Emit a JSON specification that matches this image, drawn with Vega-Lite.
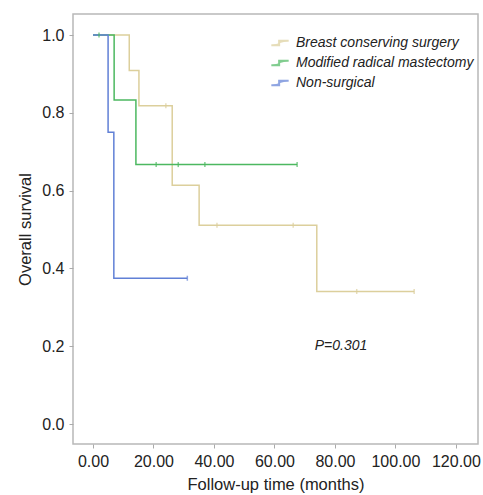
{
  "$schema": "https://vega.github.io/schema/vega-lite/v6.json",
  "autosize": {"type": "none"},
  "padding": {"left": 73, "top": 14, "right": 5, "bottom": 51},
  "width": 405,
  "height": 430,
  "background": "white",
  "config": {
    "font": "Liberation Sans",
    "view": {"stroke": "#b8b8b8", "strokeWidth": 1.5},
    "axis": {"grid": false, "domain": false, "tickColor": "#aaaaaa", "tickSize": 4, "labelColor": "#222222", "titleColor": "#222222", "labelFontSize": 16, "titleFontSize": 16.5, "titleFontWeight": "normal", "labelFont": "Liberation Sans", "titleFont": "Liberation Sans"}
  },
  "datasets": {
    "curves": [
      {"group": "Breast conserving surgery", "time": 0, "survival": 1.0},
      {"group": "Breast conserving surgery", "time": 12, "survival": 0.909},
      {"group": "Breast conserving surgery", "time": 15.2, "survival": 0.818},
      {"group": "Breast conserving surgery", "time": 26.2, "survival": 0.614},
      {"group": "Breast conserving surgery", "time": 35.1, "survival": 0.511},
      {"group": "Breast conserving surgery", "time": 74, "survival": 0.341},
      {"group": "Breast conserving surgery", "time": 106.2, "survival": 0.341},
      {"group": "Modified radical mastectomy", "time": 0, "survival": 1.0},
      {"group": "Modified radical mastectomy", "time": 7, "survival": 0.833},
      {"group": "Modified radical mastectomy", "time": 14.2, "survival": 0.667},
      {"group": "Modified radical mastectomy", "time": 67.5, "survival": 0.667},
      {"group": "Non-surgical", "time": 0, "survival": 1.0},
      {"group": "Non-surgical", "time": 5, "survival": 0.75},
      {"group": "Non-surgical", "time": 6.9, "survival": 0.375},
      {"group": "Non-surgical", "time": 31.2, "survival": 0.375}
    ],
    "censored": [
      {"group": "Breast conserving surgery", "time": 24.1, "survival": 0.818},
      {"group": "Breast conserving surgery", "time": 41, "survival": 0.511},
      {"group": "Breast conserving surgery", "time": 66.2, "survival": 0.511},
      {"group": "Breast conserving surgery", "time": 87.2, "survival": 0.341},
      {"group": "Breast conserving surgery", "time": 106.2, "survival": 0.341},
      {"group": "Modified radical mastectomy", "time": 2, "survival": 1.0},
      {"group": "Modified radical mastectomy", "time": 20.9, "survival": 0.667},
      {"group": "Modified radical mastectomy", "time": 28.2, "survival": 0.667},
      {"group": "Modified radical mastectomy", "time": 37, "survival": 0.667},
      {"group": "Modified radical mastectomy", "time": 67.5, "survival": 0.667},
      {"group": "Non-surgical", "time": 31.2, "survival": 0.375}
    ],
    "annot": [{"label": "P=0.301", "time": 82, "survival": 0.2}]
  },
  "layer": [
    {
      "data": {"name": "curves"},
      "mark": {"type": "line", "interpolate": "step-after", "strokeWidth": 1.5},
      "encoding": {
        "x": {"field": "time", "type": "quantitative", "scale": {"domain": [-6.6, 127.3], "nice": false, "zero": false}, "axis": {"values": [0, 20, 40, 60, 80, 100, 120], "format": ".2f", "title": "Follow-up time (months)", "labelPadding": 5, "titlePadding": 7}},
        "y": {"field": "survival", "type": "quantitative", "scale": {"domain": [-0.051, 1.054], "nice": false, "zero": false}, "axis": {"values": [0, 0.2, 0.4, 0.6, 0.8, 1.0], "format": ".1f", "title": "Overall survival", "labelPadding": 5, "titlePadding": 8}},
        "color": {
          "field": "group", "type": "nominal",
          "scale": {"domain": ["Breast conserving surgery", "Modified radical mastectomy", "Non-surgical"], "range": ["#dccf9c", "#4cb860", "#6180d6"]},
          "legend": {"title": null, "orient": "none", "legendX": 197, "legendY": 19, "labelFontStyle": "italic", "labelFontSize": 14, "labelLimit": 0, "labelColor": "#222222", "symbolType": "M -1 0.25 H -0.1 V -0.25 H 1", "symbolFillColor": "transparent", "symbolStrokeWidth": 2, "symbolSize": 300, "rowPadding": 3, "labelOffset": 6}
        }
      }
    },
    {
      "data": {"name": "censored"},
      "mark": {"type": "tick", "orient": "vertical", "size": 5, "thickness": 1.5},
      "encoding": {
        "x": {"field": "time", "type": "quantitative"},
        "y": {"field": "survival", "type": "quantitative"},
        "color": {"field": "group", "type": "nominal"}
      }
    },
    {
      "data": {"name": "annot"},
      "mark": {"type": "text", "fontStyle": "italic", "fontSize": 14, "color": "#222222"},
      "encoding": {
        "x": {"field": "time", "type": "quantitative"},
        "y": {"field": "survival", "type": "quantitative"},
        "text": {"field": "label"}
      }
    }
  ]
}
